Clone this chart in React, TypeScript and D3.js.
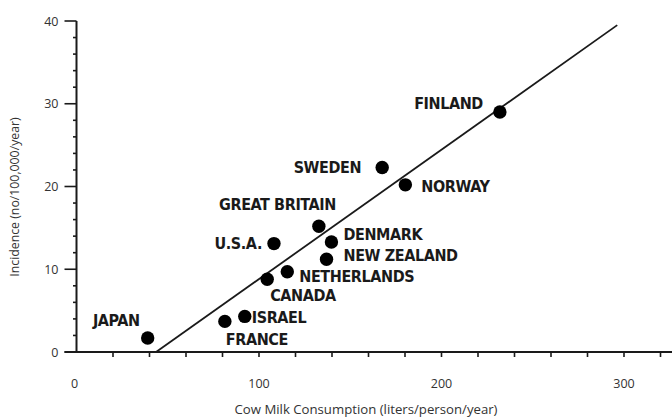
import React from "react";
import * as d3 from "d3";

// Per-country milk consumption (liters/person/year) and incidence (no/100,000/year)
const countries = [
  "JAPAN", "FRANCE", "ISRAEL", "CANADA", "NETHERLANDS", "U.S.A.",
  "GREAT BRITAIN", "DENMARK", "NEW ZEALAND", "SWEDEN", "NORWAY", "FINLAND",
];
const milk = [39, 81.3, 92.2, 104.5, 115.5, 108.2, 132.8, 139.7, 137, 167.5, 180.2, 232];
const incidence = [1.7, 3.7, 4.3, 8.8, 9.7, 13.1, 15.2, 13.3, 11.2, 22.3, 20.2, 29.0];

// Fitted trend line end points (milk, incidence)
const fitMilk = [43.6, 296.3];
const fitIncidence = [0, 39.5];

const xTickLabels = [0, 100, 200, 300];
const yTickLabels = [0, 10, 20, 30, 40];

// Label placement relative to each point: [anchor, dx, dy]
const labelPlacement: Record<string, [string, number, number]> = {
  "JAPAN": ["end", -8, -12],
  "FRANCE": ["start", 1, 24],
  "ISRAEL": ["start", 7, 7],
  "CANADA": ["start", 3, 22],
  "NETHERLANDS": ["start", 12, 10],
  "U.S.A.": ["end", -12, 5],
  "GREAT BRITAIN": ["end", 17, -16],
  "DENMARK": ["start", 12, -2],
  "NEW ZEALAND": ["start", 17, 2],
  "SWEDEN": ["end", -21, 6],
  "NORWAY": ["start", 16, 7],
  "FINLAND": ["end", -17, -3],
};

const W = 672;
const H = 418;

export default function App() {
  const x = d3.scaleLinear().domain([0, 100]).range([76.5, 259]);
  const y = d3.scaleLinear().domain([0, 40]).range([352, 21]);

  const xMinor = d3.range(20, 321, 20);
  const yMinor = d3.range(0, 41, 2);
  const line = d3
    .line<number>()
    .x((_, i) => x(fitMilk[i]))
    .y((_, i) => y(fitIncidence[i]));

  const tickFont = "'Open Sans', 'DejaVu Sans', sans-serif";
  const labelFont = "'DejaVu Sans Condensed', 'Liberation Sans Narrow', sans-serif";
  const ink = "#1a1a1a";

  return (
    <svg
      width={W}
      height={H}
      style={{ position: "absolute", left: 0, top: 0, background: "#fff" }}
    >
      {/* y axis */}
      <line x1={x(0)} x2={x(0)} y1={y(0)} y2={y(40)} stroke={ink} strokeWidth={2} />
      {yMinor.map((v) => (
        <line
          key={"ym" + v}
          x1={x(0) - (v % 10 === 0 ? 12 : 3.5)}
          x2={x(0)}
          y1={y(v)}
          y2={y(v)}
          stroke={ink}
          strokeWidth={1.6}
        />
      ))}
      {yTickLabels.map((v) => (
        <text
          key={"yl" + v}
          x={x(0) - 18}
          y={y(v) + 4.5}
          textAnchor="end"
          fontFamily={tickFont}
          fontSize={12.5}
          fill="#333"
        >
          {v}
        </text>
      ))}
      <text
        transform={`translate(19,197) rotate(-90)`}
        textAnchor="middle"
        fontFamily={tickFont}
        fontSize={12.3}
        fill="#333"
      >
        Incidence (no/100,000/year)
      </text>

      {/* x axis */}
      <line x1={x(0) - 12} x2={W} y1={y(0)} y2={y(0)} stroke={ink} strokeWidth={2} />
      {xMinor.map((v) => (
        <line
          key={"xm" + v}
          x1={x(v)}
          x2={x(v)}
          y1={y(0)}
          y2={y(0) + 5}
          stroke={ink}
          strokeWidth={1.6}
        />
      ))}
      {xTickLabels.map((v) => (
        <text
          key={"xl" + v}
          x={x(v) - (v === 0 ? 2 : 0)}
          y={388}
          textAnchor="middle"
          fontFamily={tickFont}
          fontSize={12.5}
          fill="#333"
        >
          {v}
        </text>
      ))}
      <text
        x={366}
        y={414}
        textAnchor="middle"
        fontFamily={tickFont}
        fontSize={13.2}
        fill="#333"
      >
        Cow Milk Consumption (liters/person/year)
      </text>

      {/* trend line */}
      <path d={line(fitMilk) || ""} fill="none" stroke={ink} strokeWidth={1.8} />

      {/* points and labels */}
      {countries.map((c, i) => {
        const [anchor, dx, dy] = labelPlacement[c];
        const px = x(milk[i]);
        const py = y(incidence[i]);
        return (
          <g key={c}>
            <circle cx={px} cy={py} r={6.7} fill="#000" />
            <text
              x={px + dx}
              y={py + dy}
              textAnchor={anchor}
              fontFamily={labelFont}
              fontWeight="bold"
              fontSize={16}
              letterSpacing={-0.4}
              fill={ink}
            >
              {c}
            </text>
          </g>
        );
      })}
    </svg>
  );
}
